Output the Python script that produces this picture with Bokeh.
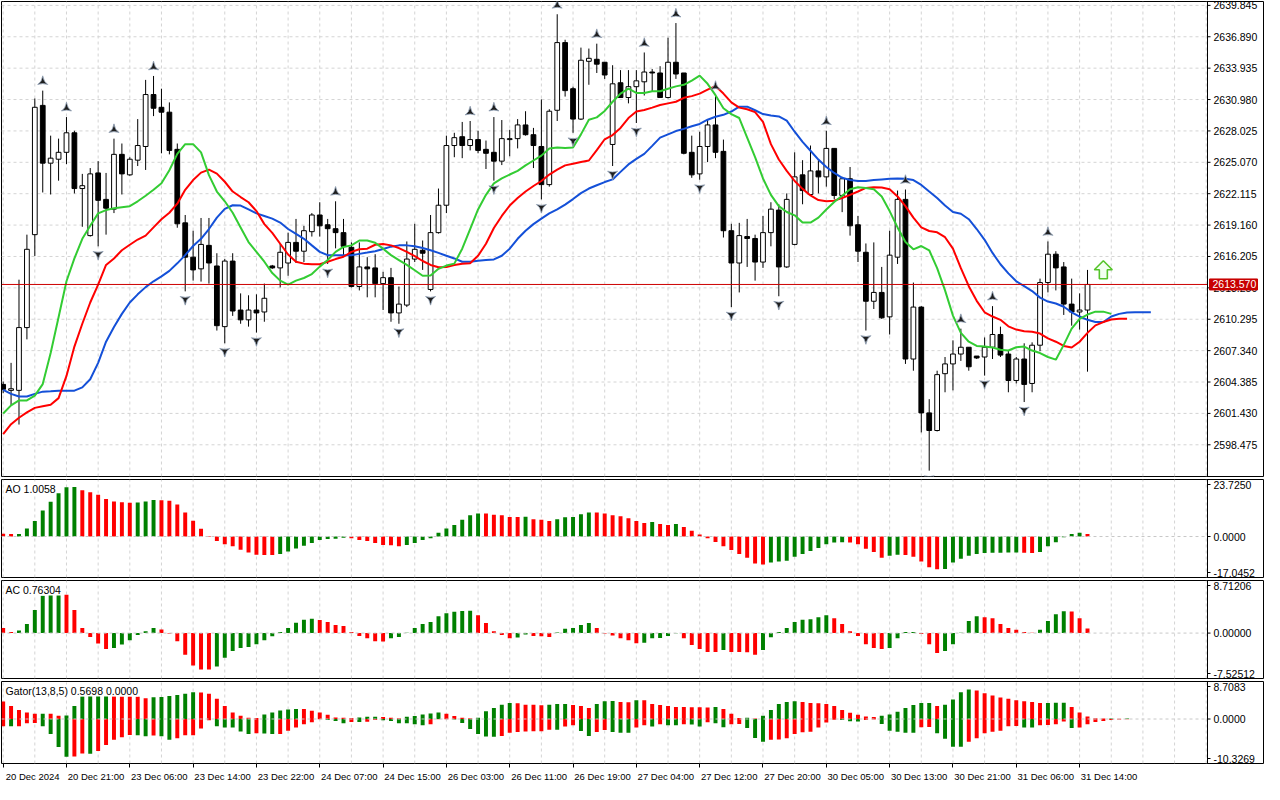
import math
from bokeh.plotting import figure
from bokeh.models import Range1d, FixedTicker, Span, Label, ColumnDataSource
from bokeh.layouts import column
from bokeh.embed import file_html
from bokeh.resources import INLINE
from bokeh.core.properties import value

# ---------------- data (hourly bars) ----------------
open_ = [2604.16, 2603.60, 2603.60, 2609.51, 2618.26, 2630.43, 2624.99, 2625.36, 2626.01, 2627.85,
         2622.60, 2618.17, 2624.07, 2621.58, 2620.66, 2625.82, 2623.89, 2625.27, 2626.56, 2631.45,
         2630.25, 2629.79, 2626.29, 2619.37, 2616.14, 2615.04, 2617.25, 2615.31, 2609.60, 2615.77,
         2611.16, 2610.24, 2611.16, 2610.98, 2615.31, 2615.13, 2615.59, 2617.53, 2616.70, 2618.54,
         2620.11, 2619.19, 2618.82, 2618.45, 2617.07, 2613.38, 2615.22, 2615.13, 2613.65, 2614.21,
         2610.89, 2611.63, 2615.96, 2616.79, 2613.10, 2618.45, 2621.03, 2626.65, 2627.48, 2626.65,
         2627.21, 2626.29, 2626.01, 2625.18, 2627.21, 2627.30, 2628.59, 2627.67, 2626.56, 2622.97,
         2629.97, 2636.34, 2632.00, 2629.14, 2634.58, 2634.77, 2634.49, 2626.75, 2632.56, 2631.17,
         2632.19, 2632.65, 2633.57, 2633.48, 2631.17, 2634.49, 2633.48, 2626.01, 2623.98, 2626.56,
         2628.59, 2626.10, 2618.63, 2615.59, 2618.08, 2617.90, 2615.68, 2618.45, 2620.57, 2615.22,
         2617.34, 2623.89, 2622.04, 2624.26, 2623.70, 2626.38, 2621.95, 2623.52, 2619.19, 2616.60,
         2611.99, 2612.82, 2610.52, 2616.14, 2621.58, 2606.55, 2611.44, 2601.48, 2599.82, 2605.17,
         2606.09, 2607.02, 2607.66, 2606.83, 2606.74, 2607.66, 2608.86, 2607.02, 2604.53, 2606.55,
         2604.25, 2607.85, 2613.75, 2616.42, 2615.22, 2611.72, 2610.98, 2611.16]
high_ = [2604.43, 2606.19, 2614.02, 2618.26, 2631.08, 2631.82, 2627.58, 2627.30, 2629.33, 2628.04,
         2623.98, 2624.53, 2625.18, 2624.07, 2627.30, 2626.84, 2625.55, 2629.14, 2632.83, 2633.20,
         2632.00, 2630.71, 2626.84, 2620.11, 2618.63, 2619.83, 2619.83, 2616.51, 2615.96, 2616.51,
         2612.73, 2612.55, 2612.64, 2613.65, 2615.41, 2617.43, 2618.45, 2619.74, 2619.09, 2620.29,
         2621.31, 2619.74, 2621.40, 2619.74, 2617.53, 2617.53, 2616.14, 2616.42, 2614.76, 2615.13,
         2613.38, 2617.62, 2619.28, 2617.71, 2620.11, 2622.60, 2627.58, 2627.85, 2628.87, 2628.96,
         2628.04, 2627.12, 2629.33, 2629.05, 2628.13, 2629.14, 2629.88, 2628.31, 2630.99, 2630.07,
         2639.01, 2636.61, 2632.19, 2635.87, 2635.78, 2636.24, 2634.49, 2634.21, 2633.75, 2633.75,
         2633.75, 2635.41, 2633.85, 2634.12, 2636.80, 2638.18, 2633.48, 2627.58, 2627.95, 2629.05,
         2631.36, 2627.21, 2619.28, 2619.37, 2619.74, 2618.26, 2620.02, 2621.31, 2621.12, 2622.14,
         2626.01, 2625.27, 2626.65, 2625.27, 2628.04, 2626.38, 2623.70, 2624.63, 2620.02, 2617.43,
         2617.53, 2615.22, 2618.63, 2622.41, 2622.51, 2613.75, 2611.53, 2602.77, 2605.45, 2606.74,
         2608.31, 2609.41, 2607.66, 2606.83, 2608.58, 2611.53, 2609.60, 2607.38, 2606.74, 2608.03,
         2608.12, 2614.12, 2617.62, 2616.70, 2615.68, 2614.12, 2612.73, 2614.94]
low_ = [2603.33, 2602.22, 2600.38, 2608.40, 2616.24, 2622.23, 2622.04, 2623.34, 2624.90, 2622.14,
        2619.00, 2618.08, 2617.16, 2618.26, 2620.29, 2622.04, 2623.80, 2624.72, 2624.35, 2629.42,
        2625.92, 2625.82, 2618.91, 2612.92, 2613.93, 2613.84, 2613.65, 2609.23, 2608.03, 2610.61,
        2609.87, 2609.60, 2609.04, 2610.06, 2615.04, 2613.29, 2614.39, 2615.59, 2615.68, 2618.08,
        2618.08, 2615.50, 2616.97, 2616.33, 2613.29, 2613.01, 2612.36, 2612.36, 2611.16, 2610.06,
        2609.87, 2611.44, 2615.68, 2614.94, 2612.92, 2618.36, 2620.29, 2625.55, 2625.46, 2626.19,
        2625.92, 2624.44, 2623.34, 2624.81, 2625.64, 2626.38, 2627.58, 2624.53, 2621.58, 2622.78,
        2628.96, 2631.26, 2627.85, 2629.05, 2632.37, 2633.48, 2632.92, 2624.72, 2631.17, 2630.62,
        2628.77, 2631.36, 2631.73, 2631.17, 2631.08, 2632.92, 2625.82, 2623.61, 2623.43, 2625.09,
        2625.46, 2617.99, 2611.44, 2612.82, 2615.22, 2613.93, 2615.13, 2617.16, 2612.46, 2615.13,
        2617.25, 2621.12, 2621.95, 2622.14, 2622.78, 2621.58, 2620.38, 2618.17, 2615.68, 2609.23,
        2611.26, 2610.33, 2608.86, 2615.50, 2606.09, 2605.45, 2599.64, 2596.04, 2599.73, 2603.42,
        2603.60, 2606.37, 2605.45, 2606.55, 2604.99, 2606.55, 2606.74, 2603.42, 2604.25, 2602.50,
        2603.42, 2607.29, 2612.82, 2613.01, 2610.70, 2609.69, 2609.32, 2605.36]
close_ = [2603.70, 2603.75, 2609.51, 2616.88, 2630.25, 2624.99, 2625.46, 2626.01, 2627.85, 2622.60,
          2622.87, 2623.98, 2621.49, 2620.75, 2625.82, 2623.98, 2625.36, 2626.65, 2631.45, 2630.16,
          2629.79, 2626.19, 2619.28, 2616.14, 2614.94, 2617.34, 2615.59, 2609.69, 2615.77, 2611.07,
          2610.24, 2611.16, 2610.89, 2612.27, 2615.13, 2616.60, 2617.53, 2616.70, 2618.63, 2620.11,
          2619.09, 2618.82, 2618.45, 2617.16, 2613.38, 2615.22, 2615.04, 2613.65, 2614.21, 2610.89,
          2611.72, 2615.96, 2616.88, 2616.51, 2618.45, 2621.03, 2626.65, 2627.39, 2626.65, 2627.21,
          2626.19, 2625.92, 2625.18, 2627.30, 2627.30, 2628.59, 2627.67, 2626.65, 2622.97, 2629.88,
          2636.34, 2631.82, 2629.14, 2634.68, 2634.86, 2634.31, 2633.29, 2632.46, 2631.17, 2632.19,
          2632.74, 2633.57, 2633.48, 2631.17, 2634.49, 2633.38, 2625.92, 2623.89, 2626.56, 2628.59,
          2626.01, 2618.63, 2615.59, 2618.17, 2617.90, 2615.68, 2618.45, 2620.66, 2615.22, 2621.58,
          2623.70, 2622.41, 2624.26, 2623.70, 2626.38, 2621.95, 2623.52, 2619.09, 2616.70, 2611.99,
          2612.82, 2610.43, 2616.33, 2621.58, 2606.55, 2611.44, 2601.48, 2599.82, 2605.08, 2606.09,
          2607.02, 2607.66, 2605.82, 2606.65, 2607.66, 2608.86, 2606.92, 2604.53, 2606.55, 2604.16,
          2607.85, 2613.75, 2616.42, 2615.13, 2611.72, 2610.98, 2611.16, 2613.57]

# Alligator lines (drawn shifted forward: jaw 8, teeth 5, lips 3 bars)
jaw = [2603.64, 2603.27, 2603.02, 2603.02, 2603.27, 2603.48, 2603.51, 2603.57, 2603.57, 2603.57,
       2603.88, 2604.65, 2606.19, 2608.18, 2609.57, 2610.80, 2611.87, 2612.64, 2613.32, 2613.87,
       2614.33, 2614.85, 2615.56, 2616.33, 2617.19, 2617.87, 2618.79, 2619.86, 2620.69, 2621.03,
       2621.00, 2620.63, 2620.26, 2620.02, 2619.77, 2619.40, 2618.79, 2618.33, 2617.87, 2617.25,
       2616.64, 2616.33, 2616.33, 2616.33, 2616.33, 2616.45, 2616.57, 2616.70, 2616.91, 2617.13,
       2617.25, 2617.25, 2617.16, 2617.00, 2616.79, 2616.54, 2616.27, 2616.02, 2615.71, 2615.71,
       2615.81, 2615.87, 2615.93, 2616.27, 2616.94, 2617.87, 2618.63, 2619.25, 2619.77, 2620.26,
       2620.63, 2621.09, 2621.61, 2622.17, 2622.60, 2622.91, 2623.21, 2623.46, 2624.17, 2624.87,
       2625.39, 2625.86, 2626.62, 2627.39, 2627.70, 2628.01, 2628.22, 2628.47, 2628.68, 2629.08,
       2629.36, 2629.54, 2629.85, 2630.31, 2630.31, 2629.97, 2629.61, 2629.48, 2629.39, 2628.99,
       2627.95, 2626.99, 2626.16, 2625.33, 2624.63, 2624.07, 2623.61, 2623.40, 2623.31, 2623.31,
       2623.40, 2623.46, 2623.52, 2623.55, 2623.52, 2623.40, 2622.94, 2622.32, 2621.71, 2621.00,
       2620.39, 2620.23, 2619.71, 2618.79, 2617.77, 2616.54, 2615.47, 2614.61, 2613.87, 2613.41,
       2612.95, 2612.33, 2611.96, 2611.78, 2611.47, 2610.95, 2610.55, 2610.24, 2610.03, 2610.03,
       2610.55, 2610.80, 2610.92, 2610.95, 2610.95, 2610.95]
teeth = [2599.49, 2600.41, 2601.02, 2601.52, 2601.95, 2602.10, 2602.25, 2602.87, 2604.96, 2607.72,
         2609.87, 2611.87, 2613.56, 2615.41, 2616.02, 2616.79, 2617.31, 2617.80, 2618.17, 2618.94,
         2619.71, 2620.32, 2621.18, 2622.48, 2623.40, 2624.10, 2624.38, 2624.01, 2623.24, 2622.32,
         2621.80, 2621.31, 2620.48, 2619.25, 2618.42, 2617.40, 2616.39, 2615.71, 2615.53, 2615.47,
         2615.47, 2615.71, 2615.96, 2616.18, 2616.64, 2616.88, 2616.94, 2617.31, 2617.37, 2617.25,
         2617.00, 2616.64, 2616.24, 2615.78, 2615.41, 2615.19, 2615.22, 2615.41, 2615.53, 2615.56,
         2616.27, 2617.40, 2618.88, 2620.02, 2621.00, 2621.71, 2622.32, 2622.84, 2623.31, 2623.92,
         2624.38, 2624.78, 2624.93, 2625.09, 2625.24, 2626.22, 2627.24, 2627.64, 2628.31, 2629.24,
         2629.85, 2630.00, 2630.22, 2630.47, 2630.62, 2630.77, 2631.14, 2631.30, 2631.54, 2631.91,
         2632.25, 2631.54, 2630.71, 2630.22, 2630.07, 2629.79, 2628.87, 2626.78, 2625.33, 2624.26,
         2623.31, 2622.57, 2621.95, 2621.52, 2621.40, 2621.46, 2621.71, 2622.01, 2622.32, 2622.66,
         2622.72, 2622.69, 2622.54, 2621.86, 2620.94, 2619.86, 2618.94, 2618.60, 2618.48, 2618.02,
         2616.94, 2615.10, 2613.41, 2612.03, 2610.95, 2610.55, 2610.24, 2609.63, 2609.32, 2609.17,
         2609.11, 2608.95, 2608.49, 2608.18, 2607.78, 2607.63, 2608.18, 2609.01, 2609.72, 2610.03,
         2610.27, 2610.34, 2610.34]
lips = [2601.42, 2602.19, 2602.65, 2602.65, 2603.11, 2604.19, 2607.11, 2610.49, 2613.87, 2616.02,
        2617.87, 2619.09, 2620.26, 2620.57, 2620.75, 2620.85, 2620.94, 2621.40, 2621.92, 2622.48,
        2623.09, 2624.32, 2625.86, 2626.78, 2626.78, 2626.01, 2623.86, 2622.32, 2621.40, 2620.32,
        2618.94, 2617.56, 2616.64, 2615.71, 2614.64, 2613.93, 2613.56, 2613.93, 2614.18, 2614.55,
        2615.25, 2615.87, 2616.64, 2617.10, 2617.25, 2617.71, 2617.71, 2617.50, 2616.94, 2616.33,
        2615.87, 2615.41, 2614.91, 2614.39, 2614.42, 2615.04, 2615.35, 2615.53, 2616.94, 2618.79,
        2620.63, 2622.01, 2623.09, 2623.55, 2623.92, 2624.26, 2624.78, 2625.24, 2625.70, 2626.38,
        2626.47, 2626.41, 2626.47, 2627.70, 2629.08, 2629.30, 2629.91, 2630.77, 2631.54, 2632.00,
        2631.60, 2631.60, 2631.76, 2631.76, 2632.00, 2632.22, 2632.37, 2632.77, 2633.23, 2632.46,
        2631.39, 2630.16, 2629.61, 2629.24, 2627.39, 2625.55, 2623.55, 2622.01, 2620.94, 2620.39,
        2620.08, 2619.40, 2619.40, 2619.86, 2620.63, 2621.34, 2621.92, 2622.54, 2622.72, 2622.66,
        2622.54, 2621.86, 2620.48, 2618.94, 2617.56, 2616.88, 2617.19, 2616.79, 2615.10, 2613.01,
        2610.64, 2609.01, 2608.18, 2607.78, 2607.72, 2607.63, 2607.42, 2607.35, 2607.66, 2607.72,
        2607.35, 2607.11, 2606.74, 2606.49, 2607.88, 2609.41, 2610.34, 2610.74, 2611.01, 2611.01,
        2610.80]

fractal_up = [5, 8, 14, 19, 42, 59, 62, 70, 75, 81, 85, 90, 104, 114, 121, 125, 132]
fractal_down = [12, 23, 28, 32, 41, 50, 54, 62, 68, 72, 77, 80, 88, 92, 98, 109, 117, 124, 129]
signal_bar = 139
signal_price = 2614.95
current_price = 2613.57

ao = [1.15, 1.05, 1.10, 3.34, 6.42, 10.83, 14.44, 18.05, 20.46, 20.60,
      19.25, 18.45, 17.38, 15.64, 14.57, 14.30, 14.10, 14.20, 14.57, 15.24,
      15.10, 14.84, 13.37, 10.03, 6.55, 3.21, 0.27, -1.87, -3.21, -4.01,
      -5.48, -6.69, -7.62, -7.65, -7.70, -7.22, -6.28, -4.95, -3.88, -2.67,
      -1.47, -1.07, -0.94, -0.55, -0.70, -1.47, -1.87, -2.67, -3.48, -3.61,
      -4.01, -3.48, -2.67, -1.47, -0.67, 1.60, 3.34, 4.81, 6.95, 8.82,
      9.63, 9.55, 9.09, 8.82, 8.16, 8.10, 8.20, 7.22, 6.95, 6.45,
      7.22, 8.02, 8.10, 9.23, 10.03, 9.95, 9.63, 8.82, 8.42, 7.62,
      6.42, 5.62, 6.02, 5.21, 4.81, 5.21, 4.01, 2.41, 0.80, -0.67,
      -2.27, -4.01, -5.62, -7.22, -8.82, -11.23, -11.63, -10.83, -10.43, -10.03,
      -8.42, -7.22, -6.02, -4.81, -3.21, -2.50, -2.35, -2.45, -3.21, -5.08,
      -6.42, -8.82, -8.02, -7.62, -7.70, -8.42, -10.43, -12.83, -13.64, -13.55,
      -10.83, -9.23, -8.02, -7.22, -6.82, -6.75, -6.70, -6.65, -6.60, -6.75,
      -6.85, -6.42, -4.01, -2.41, -0.27, 1.07, 1.60, 1.0058]
ac = [0.86, 0.16, 0.43, 1.51, 3.82, 6.18, 6.34, 7.31, 6.34, 3.82,
      0.86, -0.65, -1.72, -2.63, -2.47, -1.88, -1.18, -0.32, 0.32, 0.86,
      0.59, -0.05, -1.34, -3.60, -5.38, -6.02, -6.05, -5.54, -4.09, -2.96,
      -2.47, -2.31, -1.83, -1.18, -0.54, 0.16, 0.86, 1.72, 2.20, 2.37,
      2.15, 1.83, 1.34, 1.18, 0.16, -0.48, -0.86, -1.34, -1.38, -0.86,
      -0.65, 0.05, 0.86, 1.51, 1.83, 2.80, 3.28, 3.55, 3.66, 3.70,
      2.96, 1.67, 0.32, -0.32, -0.86, -0.75, -0.25, -0.48, -0.52, -0.65,
      0.10, 0.70, 0.86, 1.34, 1.67, 0.86, -0.05, -0.38, -0.86, -1.18,
      -1.67, -1.62, -0.86, -0.80, -0.48, -0.02, -0.86, -1.99, -2.63, -3.12,
      -3.15, -2.80, -3.12, -3.15, -3.18, -3.60, -2.80, -0.70, 0.16, 0.86,
      1.83, 2.20, 2.31, 2.63, 2.96, 2.47, 1.51, 0.32, -0.48, -1.83,
      -2.47, -2.63, -2.47, -0.86, 0.16, 0.18, -0.16, -1.83, -3.28, -2.96,
      -1.83, 0.05, 1.99, 2.80, 2.63, 2.47, 1.51, 0.86, 0.54, 0.16,
      0.05, 0.54, 1.99, 3.12, 3.60, 3.58, 2.47, 0.76304]
gator_up = [4.08, 3.02, 2.11, 1.51, 1.21, 1.25, 1.20, 0.76, 0.80, 3.02,
            5.29, 5.32, 5.35, 5.38, 5.30, 5.25, 5.20, 5.15, 4.83, 5.06,
            5.10, 5.36, 5.59, 5.89, 6.19, 6.15, 5.89, 4.68, 3.02, 1.51,
            0.76, 0.30, 0.25, 1.06, 1.51, 1.96, 2.19, 2.34, 2.30, 1.89,
            1.51, 0.98, 0.38, 0.30, 0.25, 0.38, 0.53, 0.55, 0.45, 0.30,
            0.15, 0.53, 0.68, 1.06, 1.28, 1.51, 1.21, 0.68, 0.30, 0.15,
            0.30, 1.81, 2.57, 3.32, 3.70, 3.65, 3.32, 3.30, 3.17, 3.32,
            3.47, 3.50, 3.25, 3.02, 2.57, 3.47, 4.15, 4.18, 3.93, 3.90,
            4.38, 4.35, 3.47, 3.25, 3.02, 2.79, 2.76, 2.74, 2.72, 2.70,
            2.79, 2.34, 1.21, 0.23, 0.30, 0.10, 0.76, 2.11, 3.47, 3.93,
            4.15, 3.93, 3.70, 3.68, 3.47, 3.02, 2.11, 1.43, 0.98, 0.60,
            0.45, 0.76, 1.06, 1.66, 2.57, 3.25, 3.70, 3.72, 3.02, 3.32,
            4.53, 6.19, 6.87, 6.64, 5.96, 5.44, 4.98, 4.68, 4.38, 4.15,
            3.93, 3.70, 3.72, 3.75, 3.78, 2.79, 1.51, 0.57, 0.15, 0.10,
            0.12, 0.08, 0.10]
gator_down = [-1.66, -1.70, -1.66, -0.98, -0.95, -1.66, -3.47, -6.49, -8.76, -8.70,
              -8.00, -8.05, -7.40, -6.04, -4.83, -4.23, -3.70, -3.78, -4.00, -3.85,
              -4.00, -4.83, -4.45, -3.78, -3.75, -2.19, -0.30, -1.66, -1.96, -1.98,
              -2.87, -3.47, -3.32, -3.35, -3.47, -3.45, -2.72, -1.96, -1.21, -0.76,
              -0.08, -0.23, -0.45, -0.98, -0.68, -0.70, -0.65, -0.23, -0.30, -0.45,
              -0.98, -1.00, -1.21, -1.43, -1.21, -0.08, -0.05, -0.10, -0.91, -2.34,
              -3.47, -4.08, -4.10, -3.93, -3.17, -3.02, -2.87, -2.85, -2.83, -2.49,
              -2.52, -1.74, -1.43, -2.79, -3.93, -3.02, -2.57, -3.02, -3.17, -3.20,
              -1.96, -1.43, -1.74, -1.21, -1.43, -1.46, -1.21, -1.25, -1.74, -0.76,
              -0.98, -1.89, -1.21, -1.18, -2.11, -4.38, -5.29, -4.83, -4.76, -4.45,
              -3.47, -3.10, -2.94, -1.96, -0.83, -0.15, -0.23, -0.53, -0.56, -0.20,
              -0.10, -1.13, -2.72, -2.94, -3.17, -3.20, -1.89, -1.86, -3.32, -4.61,
              -6.42, -6.45, -5.29, -4.45, -3.32, -2.94, -2.72, -1.66, -1.64, -1.96,
              -1.98, -1.43, -1.40, -1.21, -0.60, -2.11, -1.96, -1.21, -0.68, -0.45,
              -0.23, -0.10, -0.05]

price_ticks = [2639.845, 2636.890, 2633.935, 2630.980, 2628.025, 2625.070, 2622.115,
               2619.160, 2616.205, 2613.250, 2610.295, 2607.340, 2604.385, 2601.430, 2598.475]
price_range = (2595.49, 2640.21)
ao_scale = [23.7250, 0.0, -17.0452]
ao_labels = ["23.7250", "0.0000", "-17.0452"]
ac_scale = [8.71206, 0.0, -7.52512]
ac_labels = ["8.71206", "0.00000", "-7.52512"]
gator_scale = [8.7083, 0.0, -10.3269]
gator_labels = ["8.7083", "0.0000", "-10.3269"]
time_bars = [0, 8, 16, 24, 32, 40, 48, 56, 64, 72, 80, 88, 96, 104, 112, 120, 128, 136]
time_labels = ["20 Dec 2024", "20 Dec 21:00", "23 Dec 06:00", "23 Dec 14:00", "23 Dec 22:00",
               "24 Dec 07:00", "24 Dec 15:00", "26 Dec 03:00", "26 Dec 11:00", "26 Dec 19:00",
               "27 Dec 04:00", "27 Dec 12:00", "27 Dec 20:00", "30 Dec 05:00", "30 Dec 13:00",
               "30 Dec 21:00", "31 Dec 06:00", "31 Dec 14:00"]
ao_title = "AO 1.0058"
ac_title = "AC 0.76304"
gator_title = "Gator(13,8,5) 0.5698 0.0000"

# ---------------- layout / style ----------------
FONT = "Liberation Sans"
GREEN = "#008000"
RED = "#ff0000"
GRID_C = "#d4d4d4"
PLOT_W = 1206          # plotting area width (px)
AXIS_W = 56            # price-scale strip on the right (px)
FW = PLOT_W + AXIS_W
X0, X_EDGE = -0.21, 152.16
BPP = (X_EDGE - X0) / PLOT_W          # bars per pixel
X1 = X_EDGE + AXIS_W * BPP
X_RANGE = Range1d(X0, X1)
GRID_BARS = list(range(0, 153, 4))


def base_fig(frame_h, lo, hi, top=2, bottom=1, xaxis=False):
    p = figure(frame_width=FW, frame_height=frame_h, x_range=X_RANGE, y_range=Range1d(lo, hi),
               toolbar_location=None, output_backend="svg",
               x_axis_location="below" if xaxis else None, y_axis_location=None,
               min_border_left=1, min_border_right=1,
               min_border_top=top, min_border_bottom=bottom,
               background_fill_color="white", border_fill_color="white")
    p.grid.visible = False
    p.outline_line_color = "black"
    p.outline_line_width = 1
    p.segment(x0=GRID_BARS, y0=[lo] * len(GRID_BARS), x1=GRID_BARS, y1=[hi] * len(GRID_BARS),
              line_color=GRID_C, line_dash="3 3", line_width=1)
    p.add_layout(Span(location=X_EDGE, dimension="height", line_color="black", line_width=1))
    return p


def scale_labels(p, positions, labels):
    n = len(positions)
    p.segment(x0=[X_EDGE] * n, y0=positions, x1=[X_EDGE + 3 * BPP] * n, y1=positions,
              line_color="black", line_width=1)
    p.text(x=[X_EDGE + 6 * BPP] * n, y=positions, text=labels, text_font=value(FONT),
           text_font_size="10.5px", text_color="black", text_align="left",
           text_baseline="middle")


def inset_positions(vals, lo, hi, frame_h, inset_px=5):
    per_px = (hi - lo) / frame_h
    return [vals[0] - inset_px * per_px, vals[1], vals[2] + inset_px * per_px]


def rise_colors(vals, use_abs=False):
    out = []
    prev = None
    for v in vals:
        cur = abs(v) if use_abs else v
        out.append(GREEN if (prev is not None and cur > prev) else RED)
        prev = cur
    return out


def panel_title(p, text, ytop):
    p.add_layout(Label(x=X0, y=ytop, x_offset=4, y_offset=-3, text=text,
                       text_baseline="top", text_align="left", text_font=FONT,
                       text_font_size="10.5px", text_color="black",
                       background_fill_color="white"))


def zero_line(p):
    p.segment(x0=[X0], y0=[0], x1=[X_EDGE], y1=[0], line_color="#c8c8c8",
              line_dash="3 3", line_width=1)


# ---------------- main price panel ----------------
MAIN_H = 475
lo, hi = price_range
pm = base_fig(MAIN_H, lo, hi, top=1, bottom=1)
nt = len(price_ticks)
pm.segment(x0=[X0] * nt, y0=price_ticks, x1=[X_EDGE] * nt, y1=price_ticks,
           line_color=GRID_C, line_dash="3 3", line_width=1)
scale_labels(pm, price_ticks, ["%.3f" % v for v in price_ticks])

idx = list(range(len(close_)))
csrc = ColumnDataSource(dict(
    x=idx, h=high_, l=low_,
    top=[max(o, c) for o, c in zip(open_, close_)],
    bot=[min(o, c) for o, c in zip(open_, close_)],
    fill=["white" if c >= o else "black" for o, c in zip(open_, close_)]))
pm.segment(x0="x", y0="l", x1="x", y1="h", source=csrc, line_color="black", line_width=1)
pm.vbar(x="x", width=0.6, top="top", bottom="bot", source=csrc,
        fill_color="fill", line_color="black", line_width=1)

pm.line(list(range(len(jaw))), jaw, line_color="#1450d8", line_width=2)
pm.line(list(range(len(teeth))), teeth, line_color="#ff0000", line_width=2)
pm.line(list(range(len(lips))), lips, line_color="#33cc33", line_width=2)

ppx = (hi - lo) / MAIN_H
pm.scatter(fractal_up, [high_[i] + 9 * ppx for i in fractal_up], marker="triangle_pin",
           size=10, fill_color="#1e1e1e", line_color="#8a9ab0", line_width=0.8)
pm.scatter(fractal_down, [low_[i] - 8 * ppx for i in fractal_down], marker="triangle_pin",
           angle=math.pi, size=10, fill_color="#1e1e1e", line_color="#8a9ab0", line_width=0.8)

# hollow green "up" signal arrow (outline shape in pixels around the signal point)
arrow_dx = [0, 9, 4, 4, -4, -4, -9]
arrow_dy = [9, 0, 0, -9, -9, 0, 0]
pm.patch([signal_bar + dx * BPP for dx in arrow_dx],
         [signal_price + dy * ppx for dy in arrow_dy],
         fill_color="#f2fff0", line_color="#55c42a", line_width=1.6)

# current price line and its tag on the price scale
pm.segment(x0=[X0], y0=[current_price], x1=[X_EDGE], y1=[current_price],
           line_color="#cc0000", line_width=1)
pm.quad(left=[X_EDGE + 2 * BPP], right=[X_EDGE + 50 * BPP],
        bottom=[current_price - 5.5 * ppx], top=[current_price + 5.5 * ppx],
        fill_color="#c80000", line_color="#c80000")
pm.text(x=[X_EDGE + 5 * BPP], y=[current_price], text=["%.3f" % current_price],
        text_font=value(FONT), text_font_size="10.5px", text_color="white",
        text_align="left", text_baseline="middle")

# ---------------- AO ----------------
IND_H = 98
pa = base_fig(IND_H, ao_scale[2], ao_scale[0])
scale_labels(pa, inset_positions(ao_scale, ao_scale[2], ao_scale[0], IND_H), ao_labels)
pa.vbar(x=list(range(len(ao))), width=0.5, top=ao, bottom=0,
        fill_color=rise_colors(ao), line_color=None)
zero_line(pa)
panel_title(pa, ao_title, ao_scale[0])

# ---------------- AC ----------------
pc = base_fig(IND_H, ac_scale[2], ac_scale[0])
scale_labels(pc, inset_positions(ac_scale, ac_scale[2], ac_scale[0], IND_H), ac_labels)
pc.vbar(x=list(range(len(ac))), width=0.5, top=ac, bottom=0,
        fill_color=rise_colors(ac), line_color=None)
zero_line(pc)
panel_title(pc, ac_title, ac_scale[0])

# ---------------- Gator ----------------
G_H = 82
pg = base_fig(G_H, gator_scale[2], gator_scale[0], top=2, bottom=20, xaxis=True)
scale_labels(pg, inset_positions(gator_scale, gator_scale[2], gator_scale[0], G_H), gator_labels)
pg.vbar(x=list(range(len(gator_up))), width=0.5, top=gator_up, bottom=0,
        fill_color=rise_colors(gator_up, True), line_color=None)
pg.vbar(x=list(range(len(gator_down))), width=0.5, top=0, bottom=gator_down,
        fill_color=rise_colors(gator_down, True), line_color=None)
zero_line(pg)
panel_title(pg, gator_title, gator_scale[0])

# time axis: tick marks at the bars, labels set just to the right of each tick
shift = 29.5 * BPP
label_pos = [b + shift for b in time_bars]
xa = pg.xaxis[0]
xa.ticker = FixedTicker(ticks=label_pos, minor_ticks=time_bars)
xa.major_label_overrides = {pos: lab for pos, lab in zip(label_pos, time_labels)}
xa.major_tick_line_color = None
xa.major_tick_out = 0
xa.major_tick_in = 0
xa.minor_tick_line_color = "black"
xa.minor_tick_out = 4
xa.minor_tick_in = 0
xa.axis_line_color = None
xa.major_label_standoff = 3
xa.major_label_text_font = FONT
xa.major_label_text_font_size = "9.5px"
xa.major_label_text_color = "black"

layout = column(pm, pa, pc, pg, spacing=0)
open("out.html", "w").write(file_html(layout, INLINE))
